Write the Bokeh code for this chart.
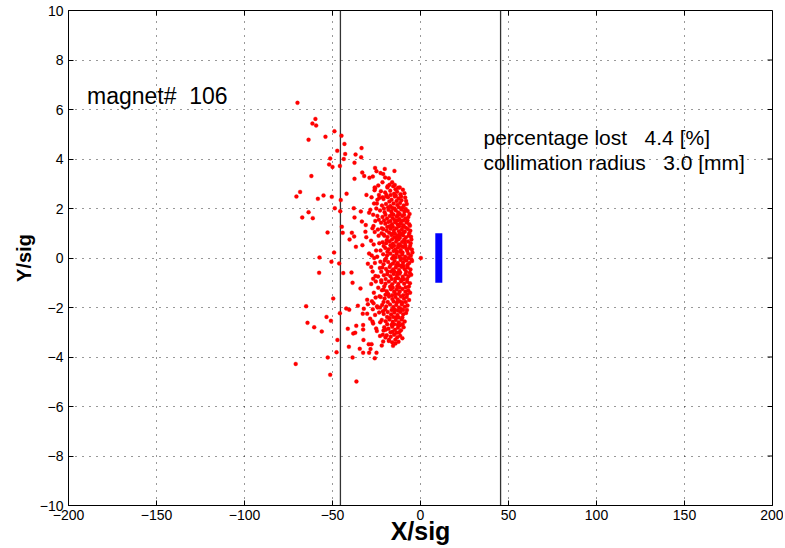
from bokeh.plotting import figure
from bokeh.models import Range1d, FixedTicker, Label
from bokeh.embed import file_html
from bokeh.resources import INLINE

# ---------------- data ----------------
xticks = [-200, -150, -100, -50, 0, 50, 100, 150, 200]
xtick_labels = ["\u2212200", "\u2212150", "\u2212100", "\u221250", "0", "50", "100", "150", "200"]
yticks = [-10, -8, -6, -4, -2, 0, 2, 4, 6, 8, 10]
ytick_labels = ["\u221210", "\u22128", "\u22126", "\u22124", "\u22122", "0", "2", "4", "6", "8", "10"]

collimator_x = [-45.5, 45.5]
beam_x = [10.4]
beam_y0 = [-1.0]
beam_y1 = [1.0]

halo_x = [-69.9, -59.7, -61.4, -59.3, -63.6, -54.0, -48.9, -44.9, -43.2, -47.3, -42.8, -33.5, -36.9,
          -51.3, -43.6, -33.7, -51.9, -50.0, -45.8, -37.5, -62.0, -37.5, -33.1, -32.0, -29.0, -27.1,
          -25.8, -25.0, -20.3, -22.7, -21.2, -14.8, -20.1, -18.0, -16.1, -24.0, -21.6, -17.6, -15.5,
          -26.0, -12.7, -18.8, -10.0,
          -68.4, -70.5, -58.3, -55.1, -50.4, -45.3, -42.0, -30.7, -25.8, -26.1, -48.7, -45.6, -63.6,
          -67.2, -61.2, -37.9, -33.9, -29.2, -37.5, -33.3, -31.1, -26.7, -44.7, -52.8, -44.2, -39.0,
          -37.7, -31.3, -30.8, -40.3, -36.7, -33.0, -29.2, -49.1, -57.4, -50.6, -46.2, -57.6, -43.9,
          -39.2, -29.9, -28.0, -26.3, 0.2, -22.3, -25.6, -26.9,
          -38.6, -34.1, -49.6, -65.0, -45.8, -42.2, -40.5, -35.6, -32.2, -32.8, -30.3, -27.1, -29.9,
          -30.3, -26.7, -24.4, -53.4, -50.9, -64.2, -60.4, -56.1, -41.3, -36.5, -32.6, -32.6, -27.3,
          -25.2, -38.2, -37.1, -21.0, -21.4, -47.2, -32.4, -40.7, -29.4, -27.8, -34.5, -28.4, -32.6,
          -47.7, -29.2, -25.0, -22.0, -21.2, -18.0, -16.1, -19.9, -52.7, -38.6, -26.0, -70.9, -51.3,
          -36.4,
          -24.5, -23.8, -25.2, -23.1, -24.0, -25.5, -23.6]
halo_y = [6.27, 5.62, 5.43, 5.35, 4.78, 4.90, 5.12, 4.94, 4.61, 4.33, 4.20, 4.44, 4.18,
          4.02, 4.00, 4.07, 3.78, 3.68, 3.72, 3.85, 3.31, 3.20, 3.45, 3.31, 3.24, 3.29,
          3.64, 3.51, 3.60, 3.43, 3.39, 3.52, 3.25, 3.22, 3.06, 2.93, 3.06, 2.96, 2.90,
          2.85, 2.84, 2.85, 2.76,
          2.67, 2.48, 2.39, 2.53, 2.47, 2.34, 2.60, 2.55, 2.82, 2.74, 2.01, 1.89, 1.85,
          1.64, 1.61, 2.01, 1.88, 1.83, 1.64, 1.47, 1.33, 1.29, 1.26, 1.03, 1.02, 1.02,
          0.87, 1.06, 0.84, 0.75, 0.45, 0.52, 0.18, 0.22, 0.02, -0.15, -0.22, -0.60, -0.61,
          -0.59, -0.23, -0.36, 0.00, 0.00, -0.56, -0.73, -0.84,
          -1.00, -1.23, -1.64, -1.95, -2.23, -2.04, -2.09, -1.93, -2.05, -2.25, -2.25, -2.07, -1.87,
          -1.69, -1.83, -2.00, -2.38, -2.54, -2.62, -2.80, -2.97, -2.86, -2.74, -2.71, -2.89, -2.57,
          -2.85, -3.05, -3.02, -2.93, -3.10, -3.31, -3.31, -3.59, -3.48, -3.48, -3.67, -3.68, -3.83,
          -3.81, -3.83, -3.83, -3.54, -3.37, -3.35, -3.40, -3.21, -4.02, -4.02, -4.05, -4.28, -4.72,
          -4.99,
          1.70, 0.90, 0.30, -0.40, -1.20, -1.60, 2.55]

core_x = [-22.5, -20.1, -17.2, -15.0, -13.3, -11.4, -9.1, -19.3, -14.2,
          -23.4, -21.0, -18.5, -16.4, -14.6, -12.5, -10.8, -8.7, -13.6, -17.7,
          -24.8, -21.9, -19.6, -17.1, -15.3, -13.2, -11.6, -9.5, -7.8, -12.2, -16.0,
          -23.0, -20.4, -18.2, -16.6, -14.1, -12.7, -10.9, -9.2, -7.3, -11.8, -15.4,
          -21.6, -19.0, -17.4, -15.8, -13.5, -12.0, -10.4, -8.6, -6.9, -14.6, -9.8,
          -22.4, -20.0, -18.3, -16.2, -14.4, -13.0, -11.2, -9.6, -7.9, -6.4, -12.1, -17.5,
          -21.1, -19.2, -17.0, -15.1, -13.7, -12.3, -10.6, -8.9, -7.2, -5.8, -11.5, -14.5,
          -20.5, -18.7, -16.5, -14.8, -13.1, -11.7, -10.0, -8.3, -6.7, -5.4, -12.6, -9.3,
          -21.5, -19.5, -17.6, -15.7, -13.9, -12.1, -10.5, -8.8, -7.1, -5.6, -15.0, -11.0,
          -20.0, -18.1, -16.3, -14.3, -12.8, -11.2, -9.7, -8.0, -6.3, -4.9, -13.5, -10.2,
          -21.2, -19.0, -17.2, -15.4, -13.6, -12.0, -10.4, -8.7, -7.0, -5.5, -16.1, -9.2,
          -20.3, -18.4, -14.7, -12.9, -11.3, -9.9, -8.1, -6.4, -4.8, -13.8, -10.7,
          -21.7, -19.6, -17.5, -15.6, -14.0, -12.2, -10.6, -9.0, -7.3, -5.7, -16.8, -11.6,
          -20.8, -18.9, -17.1, -15.2, -13.4, -11.9, -10.1, -8.5, -6.8, -5.3, -14.3, -9.5,
          -22.2, -19.9, -18.0, -16.1, -14.5, -12.6, -11.0, -9.3, -7.6, -6.0, -13.2, -17.3,
          -21.0, -19.2, -16.8, -15.0, -13.5, -11.8, -10.2, -8.6, -7.0, -5.9, -12.4, -18.3,
          -22.6, -20.4, -17.9, -16.0, -14.2, -12.9, -11.1, -9.4, -7.8, -6.5, -15.3, -10.4,
          -21.8, -19.5, -17.3, -15.5, -13.8, -12.2, -10.6, -8.9, -7.4, -14.6, -9.9,
          -23.5, -20.9, -18.6, -16.7, -14.9, -13.1, -11.5, -9.8, -8.2, -12.4, -17.5,
          -22.0, -19.8, -17.7, -15.8, -14.0, -12.3, -10.7, -9.0, -16.4, -11.6,
          -20.6, -18.2, -16.1, -14.5, -12.8, -11.1, -9.6, -13.6, -17.0,
          -19.2, -16.9, -15.0, -13.2, -11.6, -10.3, -14.3, -17.9,
          -14.2, -12.5, -15.6]
core_y = [2.70, 2.65, 2.72, 2.60, 2.68, 2.58, 2.62, 2.55, 2.78,
          2.42, 2.38, 2.45, 2.35, 2.48, 2.40, 2.33, 2.44, 2.30, 2.28,
          2.20, 2.12, 2.18, 2.10, 2.20, 2.14, 2.22, 2.12, 2.18, 2.05, 2.02,
          1.92, 1.85, 1.95, 1.88, 1.93, 1.84, 1.96, 1.88, 1.90, 1.78, 1.76,
          1.66, 1.60, 1.70, 1.62, 1.68, 1.58, 1.70, 1.60, 1.66, 1.54, 1.52,
          1.42, 1.38, 1.45, 1.36, 1.44, 1.35, 1.40, 1.32, 1.43, 1.36, 1.28, 1.28,
          1.16, 1.10, 1.18, 1.10, 1.20, 1.08, 1.15, 1.06, 1.17, 1.10, 1.00, 0.98,
          0.90, 0.85, 0.93, 0.84, 0.90, 0.82, 0.92, 0.84, 0.90, 0.86, 0.75, 0.74,
          0.64, 0.60, 0.68, 0.58, 0.66, 0.56, 0.65, 0.58, 0.67, 0.60, 0.50, 0.48,
          0.40, 0.35, 0.43, 0.34, 0.42, 0.32, 0.44, 0.36, 0.40, 0.34, 0.25, 0.22,
          0.15, 0.10, 0.18, 0.08, 0.16, 0.06, 0.14, 0.05, 0.17, 0.10, -0.02, -0.04,
          -0.10, -0.16, -0.12, -0.20, -0.08, -0.18, -0.10, -0.20, -0.12, -0.28, -0.30,
          -0.38, -0.44, -0.36, -0.46, -0.38, -0.48, -0.36, -0.45, -0.38, -0.46, -0.55, -0.58,
          -0.70, -0.66, -0.74, -0.65, -0.72, -0.64, -0.76, -0.66, -0.74, -0.68, -0.84, -0.86,
          -0.98, -1.04, -0.95, -1.06, -0.96, -1.05, -0.94, -1.04, -0.96, -1.02, -1.15, -1.16,
          -1.28, -1.34, -1.26, -1.36, -1.27, -1.35, -1.25, -1.36, -1.30, -1.40, -1.45, -1.45,
          -1.58, -1.64, -1.56, -1.66, -1.58, -1.68, -1.56, -1.65, -1.58, -1.70, -1.76, -1.80,
          -1.90, -1.96, -1.88, -1.98, -1.90, -2.00, -1.88, -1.97, -1.92, -2.08, -2.10,
          -2.20, -2.26, -2.18, -2.28, -2.20, -2.30, -2.18, -2.27, -2.22, -2.40, -2.42,
          -2.50, -2.56, -2.48, -2.58, -2.50, -2.60, -2.48, -2.57, -2.70, -2.72,
          -2.80, -2.86, -2.78, -2.90, -2.82, -2.92, -2.80, -3.02, -3.00,
          -3.12, -3.18, -3.10, -3.20, -3.14, -3.24, -3.30, -3.30,
          -3.45, -3.38, -3.55]

core2_x = [-19.4, -16.9, -14.0, -11.0, -8.2,
           -20.8, -18.4, -14.8, -10.2, -8.4,
           -19.9, -16.2, -12.9, -9.3, -6.2,
           -20.7, -17.0, -13.0, -11.0, -7.4,
           -18.9, -15.6, -10.0, -8.3, -6.0,
           -22.1, -17.8, -15.9, -12.0, -9.7, -6.4,
           -19.2, -16.1, -13.5, -9.0, -5.2,
           -20.9, -17.1, -12.6, -8.5, -5.9,
           -18.8, -15.3, -11.7, -7.5, -4.6,
           -19.6, -14.2, -11.0, -6.8, -5.2,
           -21.0, -17.0, -15.7, -12.2, -7.3, -9.4,
           -18.7, -14.9, -13.1, -8.2, -6.1,
           -19.8, -16.3, -12.6, -10.8, -7.6,
           -20.6, -15.7, -11.9, -8.4, -6.6,
           -19.9, -16.1, -14.2, -9.8, -7.6,
           -21.0, -18.6, -13.4, -11.7, -8.4,
           -20.1, -16.4, -12.9, -11.0, -7.7,
           -19.0, -15.5, -13.9, -10.3,
           -18.9, -14.9, -12.9, -10.2,
           -15.8, -12.1]
core2_y = [2.50, 2.55, 2.52, 2.48, 2.30,
           2.00, 2.05, 2.00, 2.03, 1.98,
           1.75, 1.78, 1.72, 1.75, 1.78,
           1.52, 1.50, 1.52, 1.50, 1.52,
           1.25, 1.25, 1.26, 1.22, 1.30,
           1.00, 1.02, 0.98, 0.95, 1.02, 1.00,
           0.72, 0.76, 0.78, 0.72, 0.75,
           0.48, 0.52, 0.52, 0.48, 0.50,
           0.25, 0.28, 0.25, 0.28, 0.22,
           -0.02, 0.02, -0.02, 0.00, -0.05,
           -0.25, -0.28, -0.22, -0.30, -0.27, -0.32,
           -0.55, -0.55, -0.60, -0.56, -0.60,
           -0.85, -0.85, -0.82, -0.88, -0.85,
           -1.15, -1.20, -1.18, -1.18, -1.15,
           -1.48, -1.50, -1.45, -1.50, -1.46,
           -1.78, -1.78, -1.80, -1.76, -1.78,
           -2.08, -2.10, -2.12, -2.06, -2.10,
           -2.38, -2.38, -2.40, -2.40,
           -2.68, -2.68, -2.70, -2.68,
           -2.98, -3.00]

edge_x = [-27.8, -26.4, -28.5, -26.9, -25.7, -27.3, -26.0, -28.1, -26.6, -27.7, -25.9, -27.2,
          -25.4, -28.0, -26.5, -27.6, -25.8, -28.6, -26.9, -24.8, -23.0, -24.5, -25.1, -23.7,
          -24.2, -23.4, -24.6, -22.8, -24.1, -23.3, -24.7, -22.9, -22.0, -22.7, -21.9, -23.0,
          -21.5, -22.3, -20.9, -21.4, -19.8, -18.7, -14.6, -11.8]
edge_y = [2.45, 2.20, 1.95, 1.75, 1.50, 1.20, 1.05, 0.70, 0.55, 0.10, -0.20, -0.55,
          -0.95, -1.05, -1.40, -1.75, -2.30, -2.45, -2.65, -2.95, -3.15, 2.35, 2.00, 1.55,
          1.15, 0.60, 0.05, -0.15, -0.75, -1.55, -1.95, -2.60, 1.20, 0.30, -1.30, -2.00,
          2.45, -0.90, 0.95, -2.15, -2.90, 2.90, 2.95, 2.85]

NB = "\u00a0"
magnet_text = "magnet#" + NB * 2 + "106"
info_lines = ["percentage lost" + NB * 3 + "4.4 [%]",
              "collimation radius" + NB * 3 + "3.0 [mm]"]
x_title = "X/sig"
y_title = "Y/sig"

FONT = "Liberation Sans"

# ---------------- figure ----------------
FRAME_W, FRAME_H = 704, 495
TICK_LEN = 5
p = figure(width=783, height=546, output_backend="svg", toolbar_location=None,
           x_range=Range1d(xticks[0], xticks[-1]), y_range=Range1d(yticks[0], yticks[-1]),
           frame_width=FRAME_W, frame_height=FRAME_H,
           min_border_left=68, min_border_right=11, min_border_top=10, min_border_bottom=41)
p.background_fill_color = "white"
p.border_fill_color = "white"
p.outline_line_color = "black"
p.outline_line_width = 1

for ax in (p.xaxis[0], p.yaxis[0]):
    ax.major_tick_in = TICK_LEN
    ax.major_tick_out = 0
    ax.minor_tick_line_color = None
    ax.axis_line_color = "black"
    ax.major_tick_line_color = "black"
    ax.major_label_text_font = FONT
    ax.major_label_text_font_size = "14px"
    ax.major_label_text_color = "black"
    ax.axis_label_text_font = FONT
    ax.axis_label_text_font_style = "bold"
    ax.axis_label_text_color = "black"

p.xaxis[0].ticker = FixedTicker(ticks=xticks)
p.yaxis[0].ticker = FixedTicker(ticks=yticks)
p.xaxis[0].major_label_overrides = dict(zip(xticks, xtick_labels))
p.yaxis[0].major_label_overrides = dict(zip(yticks, ytick_labels))
p.xaxis[0].major_label_standoff = 4
p.yaxis[0].major_label_standoff = 5
p.xaxis[0].axis_label = x_title
p.yaxis[0].axis_label = y_title
p.xaxis[0].axis_label_text_font_size = "25px"
p.yaxis[0].axis_label_text_font_size = "20px"
p.xaxis[0].axis_label_standoff = -6
p.yaxis[0].axis_label_standoff = 2

p.xgrid[0].ticker = FixedTicker(ticks=xticks)
p.ygrid[0].ticker = FixedTicker(ticks=yticks)
for g in (p.xgrid[0], p.ygrid[0]):
    g.grid_line_color = "black"
    g.grid_line_alpha = 0.8
    g.grid_line_dash = "1 6"
    g.grid_line_width = 1

# mirrored box ticks on top and right edges (length TICK_LEN px converted to data units)
xr, yr = p.x_range, p.y_range
dy = TICK_LEN * (yr.end - yr.start) / FRAME_H
dx = TICK_LEN * (xr.end - xr.start) / FRAME_W
p.segment(x0=xticks, y0=[yr.end] * len(xticks), x1=xticks, y1=[yr.end - dy] * len(xticks),
          line_color="black", line_width=1)
p.segment(x0=[xr.end] * len(yticks), y0=yticks, x1=[xr.end - dx] * len(yticks), y1=yticks,
          line_color="black", line_width=1)

# collimator lines
p.segment(x0=collimator_x, y0=[yr.start] * len(collimator_x),
          x1=collimator_x, y1=[yr.end] * len(collimator_x),
          line_color="#333333", line_width=1.3)

# lost particles
for xs, ys in ((halo_x, halo_y), (edge_x, edge_y), (core_x, core_y), (core2_x, core2_y)):
    p.scatter(xs, ys, size=4, fill_color="red", line_color="red", line_width=0.3)

# beam
p.segment(x0=beam_x, y0=beam_y0, x1=beam_x, y1=beam_y1, line_color="#0000ff",
          line_width=7, line_cap="butt")

# texts
p.add_layout(Label(x=-189.5, y=6.53, text=magnet_text, text_font=FONT,
                   text_font_size="23px", text_color="black", text_baseline="alphabetic"))
p.add_layout(Label(x=35.8, y=4.85, text=info_lines[0], text_font=FONT,
                   text_font_size="21px", text_color="black", text_baseline="alphabetic"))
p.add_layout(Label(x=35.8, y=3.84, text=info_lines[1], text_font=FONT,
                   text_font_size="21px", text_color="black", text_baseline="alphabetic"))

open("out.html", "w").write(file_html(p, INLINE))
